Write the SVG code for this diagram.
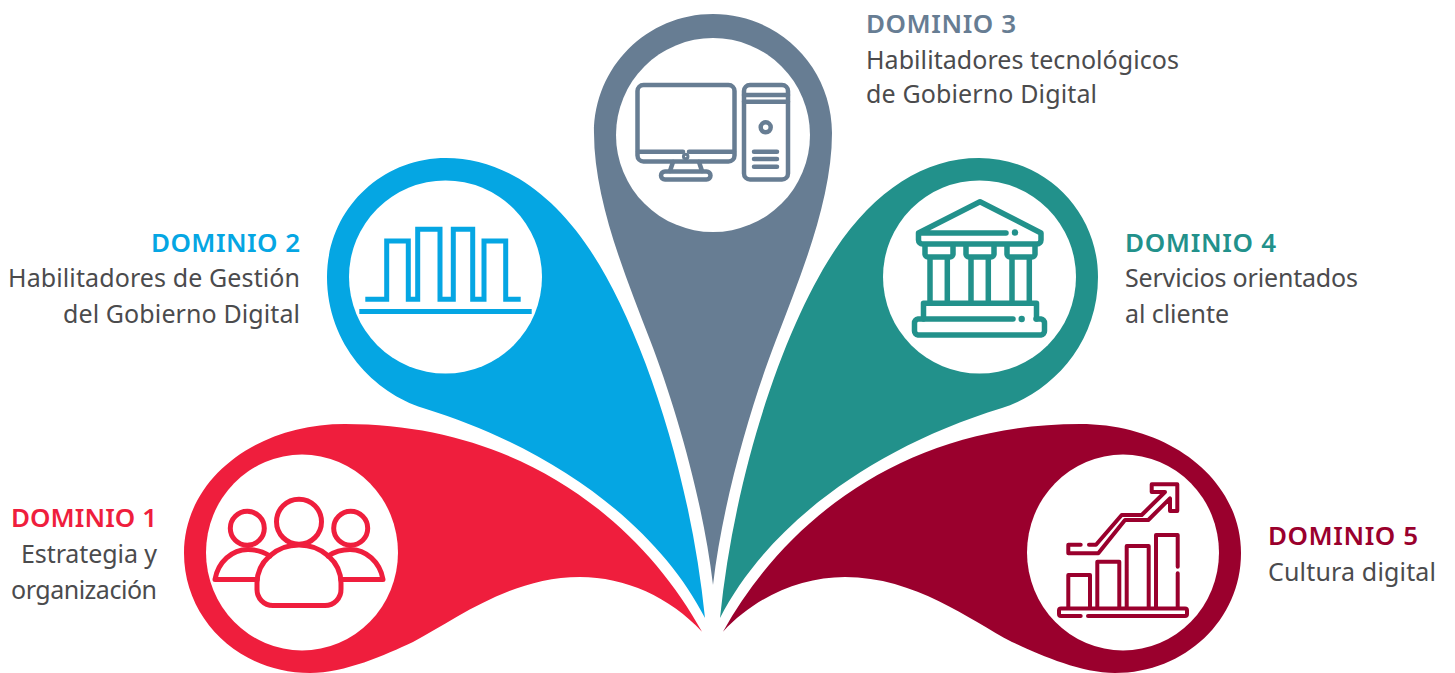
<svg xmlns="http://www.w3.org/2000/svg" width="1455" height="673" viewBox="0 0 1455 673">
<style>
.t{font-family:"Noto Sans","Open Sans",sans-serif;font-size:25px;fill:#4b4b4d}
.h{font-family:"Noto Sans","Open Sans",sans-serif;font-size:26px;font-weight:600}
.ic{fill:none;stroke-linejoin:round;stroke-linecap:round}
</style>
<defs>
<path id="petal-b" d="M446 158C500 158 550 190 590 250C640 325 690 470 705 618C660 530 560 450 423 408C375 393 327 345 327 277C327 211 380 158 446 158Z"/>
<path id="petal-r" d="M702 631.700C640 520 520 424 345 424C255 424 184 480 184 553C184 620 240 673 310 673C345 673 385 655 413 642C455 620 510 577 580 577C625 577 670 597 702 631.700Z"/>
</defs>
<rect width="1455" height="673" fill="#fff"/>
<g id="domain-3">
<path fill="#677D93" d="M713 14C647 14 594 67 594 133C594 200 625 275 650 340C675 405 703 500 713 585C723 500 751 405 776 340C801 275 832 200 832 133C832 67 779 14 713 14Z"/>
<circle cx="713" cy="135" r="97" fill="#fff"/>
<g class="ic" stroke="#677D93" stroke-width="4.500">
<rect x="637.500" y="85" width="97" height="76.500" rx="6"/><path d="M638 151.700H683M689 151.700H734M673 162L670 171M699 162L702 171"/>
<circle cx="685.700" cy="156.500" r="1.500"/><rect x="661" y="171.500" width="49.500" height="8" rx="4"/>
<rect x="744" y="85" width="44" height="94.500" rx="6"/><path d="M744 95H788M744 101.700H788M754 151.700H777M754 159H777M754 166.700H777"/><circle cx="765.700" cy="127.300" r="5"/>
</g></g>
<g id="domain-2">
<use href="#petal-b" fill="#05A6E3"/>
<circle cx="445.500" cy="277" r="96.500" fill="#fff"/>
<g fill="none" stroke="#05A6E3" stroke-width="5"><path d="M365.300 299.300H386.700V241H408.300V299.300H417.700V229.300H440V299.300H453.300V229.300H472.700V299.300H484V241H505.700V299.300H520.700"/><path d="M359.300 311.500H531.700"/></g></g>
<g id="domain-4">
<use href="#petal-b" fill="#22918B" transform="translate(1425 0) scale(-1 1)"/>
<circle cx="979.500" cy="277" r="96.500" fill="#fff"/>
<g class="ic" stroke="#22918B" stroke-width="5.500">
<path d="M918.500 233L980 201.700L1041 233V240a4 4 0 0 1-4 4H922.500a4 4 0 0 1-4-4ZM918.500 233H1006"/>
<path d="M925 245V254a3 3 0 0 0 3 3H950a3 3 0 0 0 3-3V245M966 245V254a3 3 0 0 0 3 3H991a3 3 0 0 0 3-3V245M1007 245V254a3 3 0 0 0 3 3H1032a3 3 0 0 0 3-3V245"/>
<path d="M930 258V302M947.300 258V302M971 258V302M988.300 258V302M1012 258V302M1029.300 258V302"/>
<path d="M923.500 319V303.300H1036.500V319"/><path d="M1013 319H918a4 4 0 0 0-3.500 4V331a4 4 0 0 0 3.500 4H1041a4 4 0 0 0 3.500-4V323a4 4 0 0 0-3.500-4H1036"/>
</g>
<circle cx="1015" cy="232.500" r="3.200" fill="#22918B"/><circle cx="1021.700" cy="319" r="3.200" fill="#22918B"/>
</g>
<g id="domain-1">
<use href="#petal-r" fill="#EF1E3D"/>
<ellipse cx="302" cy="552.500" rx="96" ry="98" fill="#fff"/>
<g class="ic" stroke="#EF1E3D" stroke-width="5"><circle cx="299" cy="521.700" r="22.500"/><circle cx="247.300" cy="528.300" r="17"/><circle cx="350.700" cy="528.300" r="17"/>
<path d="M257 583C257 562 276 545 299 545C322 545 341 562 341 583V589A16 16 0 0 1 325 605.500H273A16 16 0 0 1 257 589Z"/>
<path d="M257 579.500H215C218 562 232 549.500 248 549.500C256 549.500 264 552 270 556M341 579.500H383C380 562 366 549.500 350 549.500C342 549.500 334 552 328 556"/></g></g>
<g id="domain-5">
<use href="#petal-r" fill="#9A002D" transform="translate(1425 0) scale(-1 1)"/>
<ellipse cx="1123" cy="552.500" rx="96" ry="98" fill="#fff"/>
<g class="ic" stroke="#9A002D" stroke-width="4"><path d="M1080.700 616H1061a2 2 0 0 1-2-2V610.500a2 2 0 0 1 2-2H1185a2 2 0 0 1 2 2V614a2 2 0 0 1-2 2H1088"/>
<path d="M1068.300 607V575H1090V607M1097.300 607V561.700H1119.300V607M1126.700 607V546H1148.700V607M1156 607V535H1177.700V566.700M1177.700 573.300V607"/>
<path d="M1080.700 544.700H1068.300V553.300H1098.300L1125 520H1148.300L1170 498.300V511H1177.300V484.300H1151.700V492H1165L1141.700 515H1121.700L1096 544.700H1089"/></g></g>
<g id="labels">
<text class="h" fill="#677D93" x="866" y="33" textLength="150">DOMINIO 3</text>
<text class="t" x="866" y="69" textLength="313">Habilitadores tecnológicos</text>
<text class="t" x="866" y="103" textLength="231">de Gobierno Digital</text>
<text class="h" fill="#05A6E3" x="300" y="252" text-anchor="end" textLength="149">DOMINIO 2</text>
<text class="t" x="300" y="287" text-anchor="end" textLength="292">Habilitadores de Gestión</text>
<text class="t" x="300" y="323" text-anchor="end" textLength="237">del Gobierno Digital</text>
<text class="h" fill="#22918B" x="1125" y="252" textLength="151">DOMINIO 4</text>
<text class="t" x="1125" y="287" textLength="233">Servicios orientados</text>
<text class="t" x="1125" y="323" textLength="104">al cliente</text>
<text class="h" fill="#EF1E3D" x="157" y="527" text-anchor="end" textLength="146">DOMINIO 1</text>
<text class="t" x="157" y="563" text-anchor="end" textLength="136">Estrategia y</text>
<text class="t" x="157" y="599" text-anchor="end" textLength="146">organización</text>
<text class="h" fill="#9A002D" x="1268" y="545" textLength="150">DOMINIO 5</text>
<text class="t" x="1268" y="581" textLength="168">Cultura digital</text>
</g>
</svg>
